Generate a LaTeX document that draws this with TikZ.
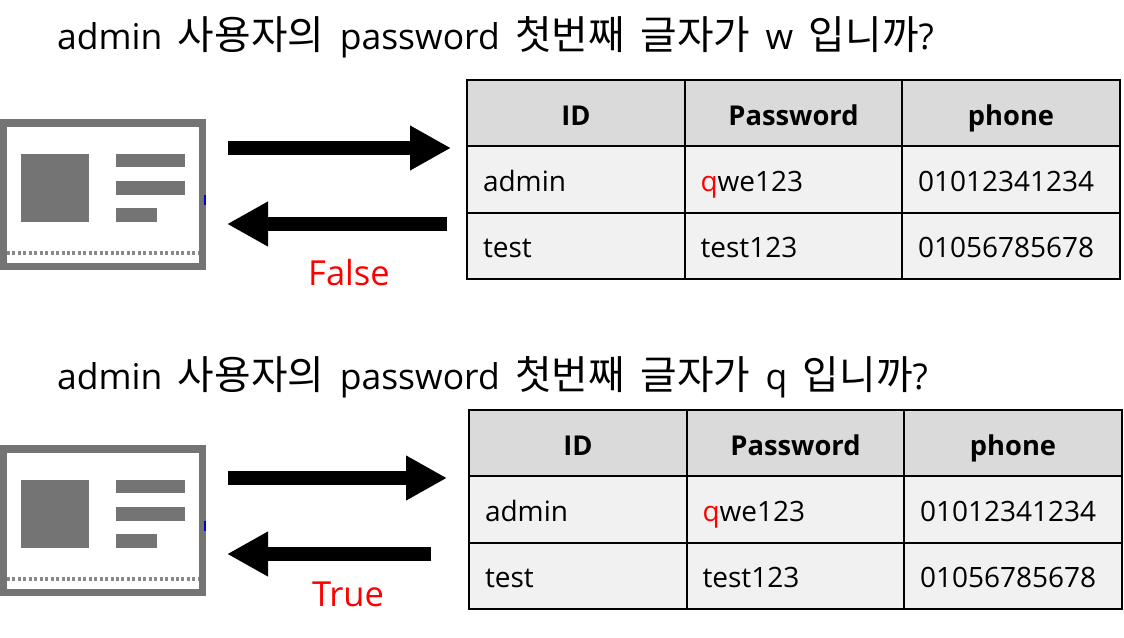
\documentclass[tikz,border=0pt]{standalone}
\usepackage{fontspec}
\setmainfont{Open Sans}
\newfontfamily\krfont[Scale=1.12]{Noto Sans CJK KR}
\usetikzlibrary{arrows.meta}
\definecolor{hdr}{HTML}{DADADA}
\definecolor{rowc}{HTML}{F1F1F1}
\definecolor{icon}{HTML}{747474}
\definecolor{redt}{HTML}{FF0000}
\newcommand{\widespaces}{\spaceskip=15.5pt\relax}
\tikzset{
  cell/.style={draw=black,line width=1.6pt,minimum height=66.5pt,inner sep=0pt,text=black,text height=27pt,text depth=3pt,font=\fontsize{28}{32}\selectfont},
  headcell/.style={cell,fill=hdr,font=\fontsize{27.3}{32}\selectfont\bfseries,anchor=center},
  bodycell/.style={cell,fill=rowc,text width=#1,align=left},
  bodycell/.default=186pt,
  lastcell/.style={bodycell,text height=26pt,text depth=4pt},
  question/.style={anchor=base west,inner sep=0pt,font=\fontsize{35.5}{40}\selectfont},
  verdict/.style={text=redt,inner sep=0pt,anchor=base,font=\fontsize{34.5}{40}\selectfont},
  bigarrow/.style={line width=14pt,black,-{Triangle[length=41pt,width=42pt]},shorten >=-1pt},
  iconpart/.style={fill=icon,draw=none}
}
\newcommand{\idcard}[2]{%
  \begin{scope}[yshift=-#2pt]
    \fill[icon] (0,119) rectangle (206,270);
    \fill[white] (7,127) rectangle (199,263);
    \fill[iconpart] (21,154) rectangle (89,222);
    \fill[iconpart] (116,154) rectangle (185,167);
    \fill[iconpart] (116,181) rectangle (185,195);
    \fill[iconpart] (116,208) rectangle (157,222);
    \draw[icon!85,line width=3.4pt,dash pattern=on 3pt off 2.45pt] (7,253) -- (199,253);
    \fill[blue!80!black] (204,195) rectangle (206,205);
  \end{scope}}
\newcommand{\datatable}[3]{% prefix, x offset, y offset
  \begin{scope}[shift={(#2pt,-#3pt)}]
    \node[headcell,minimum width=218pt] (#1a) at (576,113) {ID};
    \node[headcell,minimum width=217pt] (#1b) at (793.5,113) {Password};
    \node[headcell,minimum width=218pt] (#1c) at (1011,113) {phone};
    \node[bodycell,minimum width=218pt] (#1d) at (576,179.5) {admin};
    \node[bodycell,minimum width=217pt] (#1e) at (793.5,179.5) {\textcolor{redt}{q}we123};
    \node[bodycell,minimum width=218pt] (#1f) at (1011,179.5) {01012341234};
    \node[lastcell,minimum width=218pt] (#1g) at (576,246) {test};
    \node[lastcell,minimum width=217pt] (#1h) at (793.5,246) {test123};
    \node[lastcell,minimum width=218pt] (#1i) at (1011,246) {01056785678};
  \end{scope}}
\begin{document}
\begin{tikzpicture}[x=1pt,y=-1pt]
\useasboundingbox (0,0) rectangle (1124,637);
\fill[white] (0,0) rectangle (1124,637);
\node[question] (q1) at (57,49) {\widespaces admin {\krfont 사용자의} password {\krfont 첫번째 글자가} w {\krfont 입니까}?};
\node[question] (q2) at (57,389) {\widespaces admin {\krfont 사용자의} password {\krfont 첫번째 글자가} q {\krfont 입니까}?};
\idcard{a}{0}
\idcard{b}{326}
\datatable{s}{0}{0}
\datatable{t}{2}{330}
\coordinate (a1s) at (228,148); \coordinate (a1e) at (450,148);
\coordinate (a2s) at (447,224); \coordinate (a2e) at (228,224);
\coordinate (b1s) at (228,478); \coordinate (b1e) at (446,478);
\coordinate (b2s) at (431,554); \coordinate (b2e) at (228,554);
\draw[bigarrow] (a1s) -- (a1e);
\draw[bigarrow] (a2s) -- (a2e);
\draw[bigarrow] (b1s) -- (b1e);
\draw[bigarrow] (b2s) -- (b2e);
\node[verdict] (f) at (349,285) {False};
\node[verdict] (tr) at (348,606) {True};
\end{tikzpicture}
\end{document}
